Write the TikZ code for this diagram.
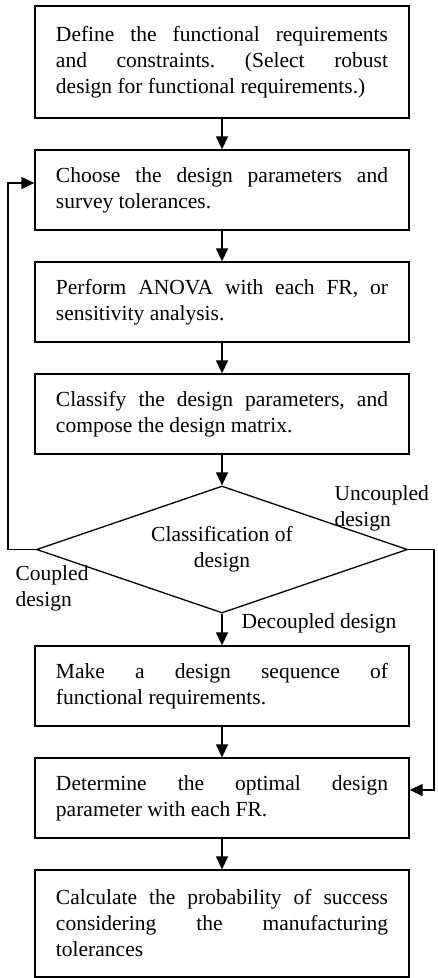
\documentclass[tikz,border=0pt]{standalone}
\usepackage{fontspec}
\setmainfont{Liberation Serif}
\usetikzlibrary{arrows.meta,shapes.geometric}
\frenchspacing
\begin{document}
\begin{tikzpicture}[x=1pt,y=-1pt,
  line width=1.3pt,
  font=\fontsize{21.5}{26}\selectfont\frenchspacing,
  box/.style={draw, rectangle, minimum width=374pt, text width=332pt, inner xsep=21pt, inner ysep=0pt, align=justify},
  arr/.style={-{Triangle[length=13pt,width=12pt]}},
  lbl/.style={inner sep=0pt, align=left, font=\fontsize{21.5}{26}\selectfont}
]
\useasboundingbox (0,0) rectangle (438,978);
\node[box, minimum height=112pt] (b1) at (222,62) {Define the functional requirements\linebreak and constraints. (Select robust\linebreak design for functional requirements.)\par\vspace{8pt}};
\node[box, minimum height=80pt] (b2) at (222,190) {Choose the design parameters and\linebreak survey tolerances.\par\vspace{4pt}};
\node[box, minimum height=80pt] (b3) at (222,302) {Perform ANOVA with each FR, or\linebreak sensitivity analysis.\par\vspace{4pt}};
\node[box, minimum height=80pt] (b4) at (222,414) {Classify the design parameters, and\linebreak compose the design matrix.\par\vspace{4pt}};
\node[draw, diamond, aspect=2.92, minimum width=371pt, minimum height=127pt, inner sep=0pt, align=center] (dia) at (222,549.5) {Classification of\\design};
\node[box, minimum height=80pt] (b5) at (222,686) {Make a design sequence of\linebreak functional requirements.\par\vspace{4pt}};
\node[box, minimum height=80pt] (b6) at (222,798) {Determine the optimal design\linebreak parameter with each FR.\par\vspace{4pt}};
\node[box, minimum height=107pt] (b7) at (222,923.5) {Calculate the probability of success\linebreak considering the manufacturing\linebreak tolerances\par\vspace{4pt}};

\draw[arr] (b1) -- (b2);
\draw[arr] (b2) -- (b3);
\draw[arr] (b3) -- (b4);
\draw[arr] (b4) -- (dia);
\draw[arr] (dia) -- (b5);
\draw[arr] (b5) -- (b6);
\draw[arr] (b6) -- (b7);

\coordinate (lft) at (8,549.5);
\coordinate (rgt) at (434,549.5);
\draw[arr] (dia.west) -- (lft) |- ([yshift=7pt]b2.west);
\draw[arr] (dia.east) -- (rgt) |- ([yshift=8pt]b6.east);

\node[lbl, anchor=west] (lu) at (334,508) {Uncoupled\\design};
\node[lbl, anchor=west] (lc) at (15,588) {Coupled\\design};
\node[lbl, anchor=base west] (ld) at (241,628) {Decoupled design};
\end{tikzpicture}
\end{document}
